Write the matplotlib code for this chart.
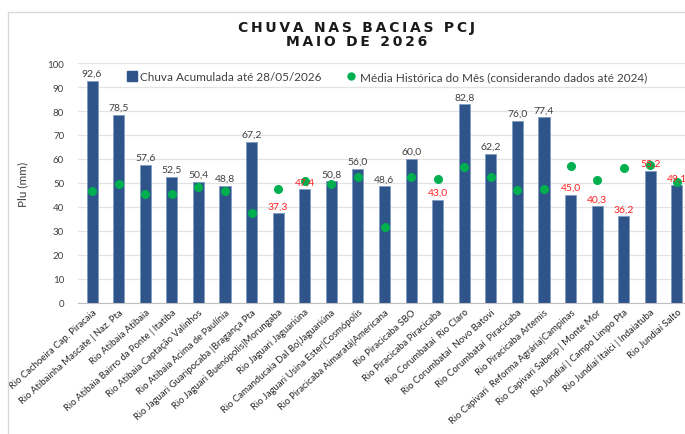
import matplotlib
matplotlib.use("Agg")
import matplotlib.pyplot as plt
from matplotlib.patches import Rectangle
from matplotlib.lines import Line2D
import numpy as np

# dados
estacoes = [
    "Rio Cachoeira Cap. Piracaia",
    "Rio Atibainha Mascate | Naz. Pta",
    "Rio Atibaia Atibaia",
    "Rio Atibaia Bairro da Ponte | Itatiba",
    "Rio Atibaia Captação Valinhos",
    "Rio Atibaia Acima de Paulínia",
    "Rio Jaguari Guaripocaba |Bragança Pta",
    "Rio Jaguari Buenópolis|Morungaba",
    "Rio Jaguari Jaguariúna",
    "Rio Camanducaia Dal Bo|Jaguariúna",
    "Rio Jaguari Usina Ester|Cosmópolis",
    "Rio Piracicaba Aimaratá|Americana",
    "Rio Piracicaba SBO",
    "Rio Piracicaba Piracicaba",
    "Rio Corumbataí  Rio Claro",
    "Rio Corumbataí  Novo Batovi",
    "Rio Corumbataí  Piracicaba",
    "Rio Piracicaba Artemis",
    "Rio Capivari  Reforma Agrária|Campinas",
    "Rio Capivari Sabesp | Monte Mor",
    "Rio Jundiaí | Campo Limpo Pta",
    "Rio Jundiaí Itaici | Indaiatuba",
    "Rio Jundiaí Salto",
]
chuva_acum = [92.6, 78.5, 57.6, 52.5, 50.4, 48.8, 67.2, 37.3, 47.4, 50.8, 56.0, 48.6,
              60.0, 43.0, 82.8, 62.2, 76.0, 77.4, 45.0, 40.3, 36.2, 55.2, 49.1]
media_hist = [46.7, 49.4, 45.5, 45.3, 48.5, 46.7, 37.5, 47.5, 50.8, 49.4, 52.4, 31.7,
              52.6, 51.5, 56.5, 52.4, 47.1, 47.5, 57.1, 51.2, 56.2, 57.6, 50.6]

AZUL = "#2F5489"
VERDE = "#00B050"
CINZA = "#404040"

plt.rcParams['font.family'] = ['Lato', 'DejaVu Sans']

fig = plt.figure(figsize=(6.85, 4.35), dpi=100)

# borda da area do grafico
fig.patches.append(Rectangle((8 / 685, -0.1), 1.2, 1 - 13 / 435 + 0.1,
                             transform=fig.transFigure, fill=False,
                             edgecolor="#d9d9d9", linewidth=1.0))

ax = fig.add_axes([78 / 685, 131 / 435, 613 / 685, 240 / 435])
x = np.arange(len(estacoes))

ax.bar(x, chuva_acum, width=0.42, color=AZUL, edgecolor="#7f9cc4", linewidth=0.6, zorder=2)
ax.plot(x, media_hist, "o", color=VERDE, markersize=5.5, zorder=3)

for xi, v, m in zip(x, chuva_acum, media_hist):
    cor = "#FF2020" if v < m else CINZA
    ax.text(xi, v + 1.2, f"{v:.1f}".replace(".", ","), ha="center", va="bottom",
            fontsize=7.5, color=cor, zorder=4)

ax.set_xlim(-0.53, len(estacoes) - 0.47)
ax.set_ylim(0, 100)
ax.set_yticks(range(0, 101, 10))
ax.yaxis.grid(True, color="#e3e3e3", linewidth=0.9, zorder=0)
ax.set_axisbelow(True)
for s in ["top", "right", "left"]:
    ax.spines[s].set_visible(False)
ax.spines["bottom"].set_color("#bfbfbf")
ax.tick_params(axis="y", length=0, labelsize=7, labelcolor=CINZA, pad=10)
ax.tick_params(axis="x", length=0, pad=3)
ax.set_xticks(x)
ax.set_xticklabels(estacoes, rotation=42, ha="right", rotation_mode="anchor",
                   fontsize=6.8, color="#262626")
ax.set_ylabel("Plu (mm)", fontsize=8.5, color=CINZA, labelpad=14)

handles = [
    Line2D([], [], marker="s", linestyle="", color=AZUL, markersize=7),
    Line2D([], [], marker="o", linestyle="", color=VERDE, markersize=5),
]
ax.legend(handles, ["Chuva Acumulada até 28/05/2026",
                    "Média Histórica do Mês (considerando dados até 2024)"],
          loc="upper left", bbox_to_anchor=(0.065, 1.0), ncol=2, frameon=False,
          fontsize=8.5, handletextpad=0.2, columnspacing=2.0, handlelength=1.0,
          borderaxespad=0.3, labelcolor=CINZA)


def espacado(txt):
    # espacamento entre letras como no titulo original
    return "\u2009".join(txt)


fig.text(357 / 685, 1 - 28 / 435, espacado("CHUVA NAS BACIAS PCJ"),
         ha="center", va="center", fontsize=10, fontweight="bold",
         family="DejaVu Sans", color="#1a1a1a")
fig.text(357 / 685, 1 - 42 / 435, espacado("MAIO DE 2026"),
         ha="center", va="center", fontsize=10, fontweight="bold",
         family="DejaVu Sans", color="#1a1a1a")

fig.savefig("out.png", dpi=100)
